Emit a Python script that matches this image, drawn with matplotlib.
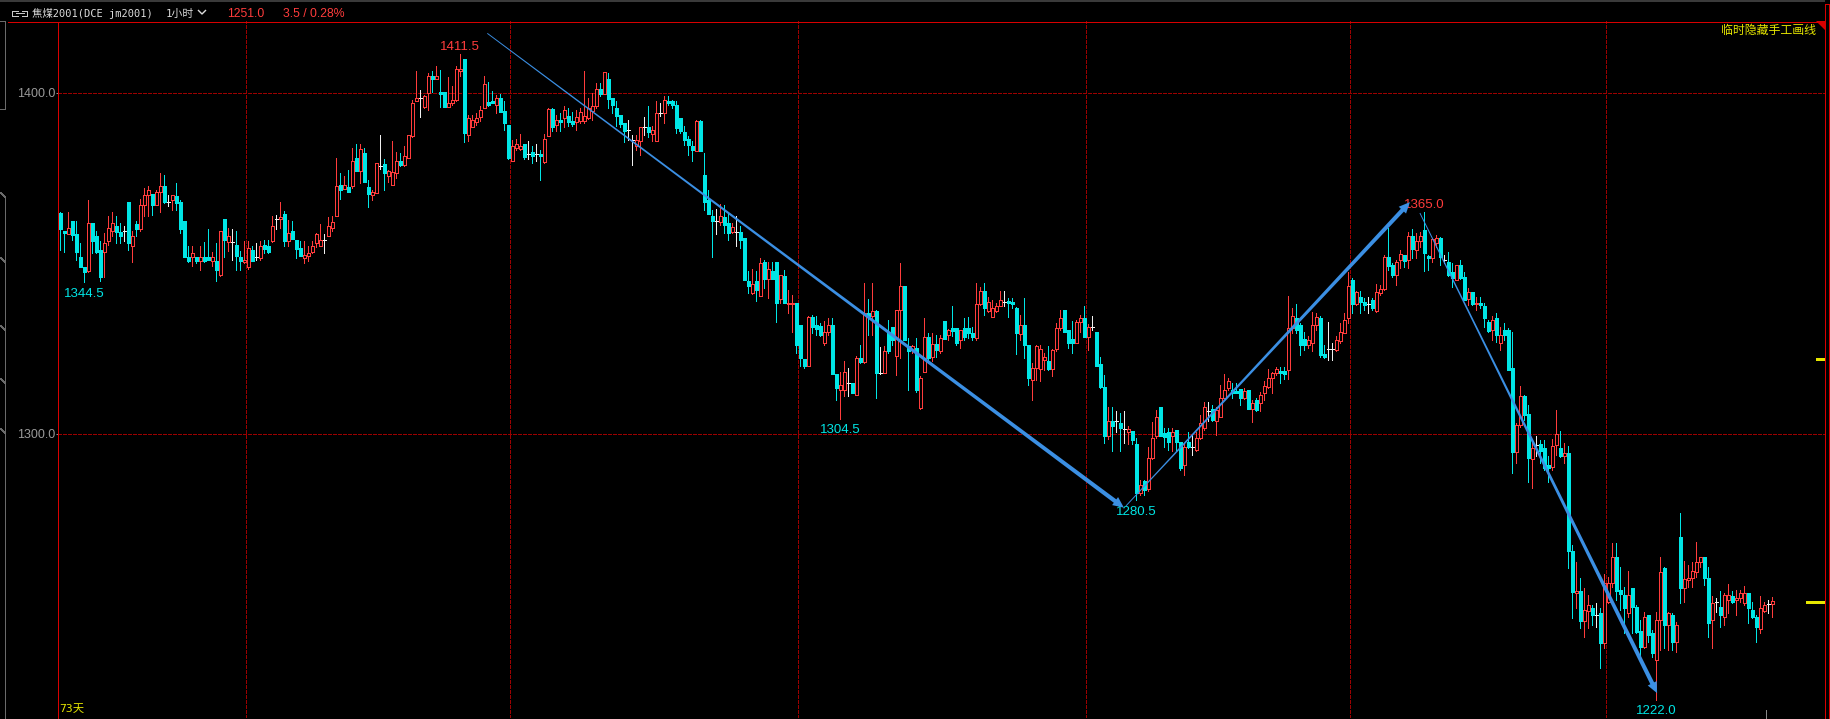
import numpy as np
import matplotlib
matplotlib.use("Agg")
import matplotlib.pyplot as plt
from matplotlib.lines import Line2D
from matplotlib.patches import Rectangle, Polygon
from matplotlib.transforms import IdentityTransform

# ---------------------------------------------------------------------------
# 1-hour bars, 焦煤2001 (DCE jm2001)
# ---------------------------------------------------------------------------
OPEN = [
    1364.8, 1359.6, 1358.7, 1362.5, 1358.7, 1352.0, 1348.9, 1347.8, 1362.0, 1358.0,
    1354.0, 1353.3, 1356.5, 1359.4, 1361.0, 1359.1, 1359.4, 1368.0, 1355.0, 1361.7,
    1360.0, 1367.3, 1370.0, 1370.4, 1367.3, 1370.9, 1372.6, 1368.0, 1368.7, 1369.7,
    1368.0, 1362.5, 1351.8, 1351.8, 1352.0, 1350.8, 1351.9, 1351.9, 1350.8, 1350.6,
    1346.7, 1363.1, 1356.3, 1356.2, 1355.5, 1352.0, 1350.3, 1348.9, 1354.0, 1351.9,
    1351.6, 1355.3, 1355.2, 1356.5, 1363.1, 1363.0, 1364.6, 1356.5, 1359.6, 1357.0,
    1354.6, 1351.6, 1352.3, 1353.3, 1356.0, 1355.0, 1357.0, 1358.0, 1360.4, 1363.8,
    1373.1, 1371.9, 1372.3, 1372.6, 1381.0, 1377.0, 1382.4, 1372.3, 1370.0, 1370.7,
    1378.5, 1379.3, 1375.6, 1372.9, 1376.5, 1380.2, 1379.0, 1381.0, 1387.3, 1397.8,
    1398.5, 1395.8, 1400.0, 1404.9, 1404.1, 1400.2, 1400.2, 1396.0, 1397.0, 1398.0,
    1406.4, 1410.0, 1387.8, 1390.0, 1391.4, 1393.0, 1395.6, 1397.3, 1397.8, 1396.6,
    1398.5, 1394.6, 1390.7, 1380.2, 1383.9, 1383.6, 1385.1, 1382.2, 1382.6, 1382.1,
    1382.2, 1379.7, 1387.3, 1395.3, 1390.5, 1392.2, 1392.7, 1393.2, 1391.7, 1391.4,
    1391.9, 1391.7, 1392.7, 1394.6, 1396.3, 1401.2, 1399.7, 1404.1, 1398.5, 1395.6,
    1393.6, 1391.2, 1389.2, 1386.3, 1384.4, 1385.8, 1390.0, 1390.0, 1388.1, 1385.8,
    1394.1, 1394.1, 1397.8, 1397.8, 1396.6, 1392.7, 1388.5, 1386.5, 1384.6, 1382.9,
    1391.7, 1376.0, 1368.7, 1364.0, 1362.4, 1362.1, 1363.6, 1361.9, 1359.2, 1359.1,
    1359.1, 1357.5, 1344.8, 1341.3, 1344.8, 1340.4, 1350.3, 1345.5, 1347.7, 1350.3,
    1339.6, 1346.2, 1338.2, 1338.2, 1338.4, 1332.1, 1322.0, 1319.8, 1334.2, 1332.0,
    1331.6, 1326.7, 1329.8, 1332.0, 1317.6, 1312.9, 1312.9, 1314.9, 1315.1, 1311.5,
    1322.2, 1321.0, 1335.6, 1334.6, 1336.1, 1317.8, 1317.8, 1329.6, 1331.3, 1322.9,
    1336.4, 1343.4, 1325.7, 1324.7, 1325.2, 1307.6, 1318.3, 1328.4, 1322.7, 1326.4,
    1324.2, 1333.0, 1329.1, 1331.0, 1331.0, 1327.6, 1331.0, 1331.0, 1329.6, 1328.1,
    1338.2, 1341.8, 1336.1, 1334.4, 1336.1, 1337.6, 1338.8, 1339.1, 1338.6, 1336.9,
    1329.4, 1332.0, 1326.1, 1315.9, 1319.3, 1319.0, 1321.7, 1321.4, 1319.0, 1324.9,
    1331.0, 1336.4, 1330.5, 1327.8, 1326.8, 1332.7, 1334.0, 1328.4, 1331.3, 1329.8,
    1320.6, 1313.9, 1299.3, 1303.7, 1303.7, 1303.2, 1301.5, 1300.7, 1300.9, 1297.1,
    1282.8, 1286.1, 1283.8, 1292.9, 1299.3, 1308.0, 1300.2, 1300.7, 1299.3, 1301.2,
    1297.8, 1290.9, 1297.8, 1296.3, 1295.4, 1298.8, 1301.7, 1306.6, 1307.3, 1303.9,
    1305.1, 1310.5, 1313.4, 1312.9, 1312.7, 1313.1, 1310.5, 1312.9, 1307.3, 1310.0,
    1309.2, 1311.9, 1313.9, 1316.3, 1318.0, 1318.6, 1318.6, 1318.8, 1331.0, 1334.1,
    1332.0, 1327.8, 1326.1, 1326.6, 1332.0, 1333.9, 1323.5, 1324.8, 1324.8, 1324.6,
    1327.4, 1329.7, 1333.9, 1345.2, 1338.1, 1340.3, 1338.8, 1338.0, 1339.3, 1336.0,
    1341.3, 1342.4, 1351.8, 1349.6, 1346.6, 1351.0, 1352.5, 1351.0, 1358.1, 1354.0,
    1356.6, 1359.8, 1352.2, 1351.5, 1355.9, 1357.4, 1351.0, 1350.3, 1347.6, 1345.2,
    1349.6, 1346.1, 1339.5, 1341.7, 1338.1, 1338.3, 1337.5, 1332.7, 1330.5, 1333.9,
    1326.6, 1330.5, 1330.5, 1319.3, 1294.8, 1302.6, 1311.0, 1305.9, 1292.6, 1296.8,
    1297.1, 1295.8, 1290.9, 1290.4, 1296.8, 1295.8, 1293.6, 1294.3, 1265.8, 1253.3,
    1254.0, 1245.3, 1248.2, 1248.9, 1246.9, 1247.4, 1238.8, 1250.8, 1256.2, 1264.0,
    1254.3, 1252.8, 1247.6, 1254.7, 1249.2, 1242.2, 1237.6, 1246.9, 1241.5, 1233.7,
    1245.5, 1260.6, 1244.0, 1246.9, 1239.1, 1269.9, 1254.7, 1257.2, 1257.9, 1259.6,
    1262.6, 1263.8, 1257.7, 1245.5, 1250.8, 1249.2, 1246.4, 1251.3, 1252.5, 1251.3,
    1251.8, 1250.3, 1253.3, 1248.4, 1246.2, 1242.7, 1248.2, 1250.2, 1250.2,
]
HIGH = [
    1365.2, 1359.6, 1365.0, 1362.5, 1362.4, 1356.0, 1348.9, 1368.6, 1362.0, 1359.4,
    1356.5, 1359.0, 1363.8, 1365.0, 1363.8, 1361.9, 1361.0, 1368.0, 1359.4, 1362.4,
    1369.0, 1372.1, 1372.6, 1370.4, 1371.7, 1376.5, 1376.0, 1370.2, 1370.2, 1373.6,
    1368.7, 1362.5, 1355.0, 1355.0, 1352.0, 1355.2, 1356.2, 1360.0, 1353.4, 1356.0,
    1359.6, 1363.1, 1360.4, 1360.0, 1359.4, 1353.6, 1356.5, 1356.5, 1355.0, 1356.0,
    1356.5, 1356.8, 1357.0, 1363.8, 1364.3, 1368.0, 1365.5, 1362.9, 1362.5, 1357.0,
    1356.5, 1356.5, 1355.0, 1356.5, 1359.0, 1361.6, 1358.7, 1363.6, 1363.8, 1381.0,
    1376.5, 1375.6, 1377.5, 1383.9, 1385.1, 1385.1, 1383.9, 1374.6, 1371.7, 1379.5,
    1387.8, 1380.7, 1377.5, 1386.0, 1382.6, 1382.4, 1384.4, 1387.8, 1398.0, 1406.4,
    1400.8, 1399.5, 1405.9, 1406.4, 1407.8, 1406.6, 1400.2, 1404.7, 1402.0, 1407.8,
    1411.5, 1410.0, 1393.6, 1393.6, 1394.1, 1396.3, 1405.1, 1403.1, 1400.5, 1399.5,
    1399.8, 1397.6, 1390.7, 1386.3, 1386.5, 1388.0, 1385.1, 1386.0, 1384.4, 1385.0,
    1383.4, 1388.1, 1395.6, 1395.6, 1393.6, 1394.1, 1396.1, 1395.6, 1394.3, 1395.1,
    1395.6, 1406.5, 1398.5, 1400.0, 1402.9, 1402.9, 1406.2, 1405.9, 1398.5, 1397.6,
    1393.6, 1391.2, 1392.2, 1387.8, 1387.8, 1390.0, 1393.0, 1396.3, 1390.4, 1397.6,
    1397.0, 1399.0, 1399.0, 1398.0, 1397.6, 1392.7, 1390.2, 1387.3, 1386.0, 1392.2,
    1392.2, 1382.4, 1371.7, 1365.8, 1366.0, 1367.5, 1367.2, 1365.0, 1361.9, 1363.8,
    1360.9, 1357.5, 1347.7, 1348.4, 1347.7, 1351.6, 1351.1, 1350.3, 1350.3, 1350.3,
    1346.7, 1348.2, 1342.1, 1340.9, 1338.4, 1332.1, 1322.0, 1334.7, 1335.0, 1334.7,
    1332.5, 1333.0, 1334.0, 1334.0, 1317.6, 1318.3, 1321.3, 1319.3, 1315.1, 1322.8,
    1326.1, 1344.2, 1339.5, 1344.2, 1336.4, 1325.4, 1325.7, 1333.5, 1331.3, 1336.4,
    1350.1, 1343.4, 1328.1, 1326.1, 1328.1, 1316.9, 1334.0, 1329.6, 1329.6, 1329.1,
    1329.1, 1333.0, 1330.7, 1337.4, 1331.0, 1330.5, 1334.0, 1334.4, 1331.5, 1344.2,
    1343.2, 1344.2, 1340.3, 1339.3, 1338.4, 1341.8, 1341.8, 1339.8, 1339.8, 1337.2,
    1334.9, 1339.8, 1326.1, 1320.8, 1326.1, 1326.1, 1323.7, 1325.7, 1324.9, 1332.5,
    1336.4, 1336.4, 1330.5, 1333.0, 1333.5, 1334.9, 1337.6, 1332.3, 1334.6, 1330.0,
    1322.5, 1317.3, 1308.0, 1308.0, 1306.6, 1306.1, 1306.6, 1302.2, 1300.9, 1298.8,
    1286.6, 1286.6, 1296.3, 1303.6, 1307.1, 1308.0, 1301.7, 1301.7, 1301.7, 1301.2,
    1297.8, 1297.3, 1300.7, 1299.7, 1300.7, 1305.6, 1309.5, 1309.5, 1308.5, 1308.0,
    1314.4, 1317.6, 1316.4, 1315.1, 1315.1, 1313.1, 1313.4, 1312.9, 1310.0, 1310.5,
    1312.4, 1315.4, 1319.0, 1318.3, 1319.7, 1319.7, 1319.7, 1340.5, 1336.9, 1338.0,
    1332.5, 1330.0, 1328.7, 1335.9, 1335.4, 1334.6, 1326.1, 1332.7, 1326.6, 1328.6,
    1332.5, 1335.4, 1347.6, 1345.7, 1341.8, 1341.8, 1340.0, 1340.3, 1340.0, 1344.0,
    1343.7, 1352.5, 1360.3, 1350.0, 1351.0, 1353.9, 1352.5, 1359.3, 1360.0, 1358.8,
    1359.3, 1365.0, 1352.5, 1357.4, 1358.4, 1357.9, 1352.5, 1353.5, 1350.0, 1349.6,
    1351.0, 1347.6, 1342.7, 1341.7, 1340.3, 1340.3, 1338.3, 1333.4, 1334.6, 1335.4,
    1331.5, 1332.5, 1331.0, 1330.0, 1303.1, 1314.0, 1311.4, 1308.5, 1298.2, 1299.4,
    1298.2, 1298.2, 1293.6, 1298.4, 1307.0, 1300.9, 1297.3, 1296.5, 1267.5, 1262.6,
    1257.7, 1254.7, 1252.8, 1249.9, 1250.5, 1248.9, 1258.9, 1258.2, 1267.9, 1267.9,
    1261.1, 1255.2, 1259.9, 1254.7, 1249.9, 1245.5, 1247.9, 1246.9, 1242.5, 1247.9,
    1264.0, 1261.1, 1247.9, 1247.4, 1245.0, 1276.7, 1262.8, 1261.6, 1262.6, 1268.4,
    1263.8, 1263.8, 1261.1, 1252.5, 1251.8, 1254.0, 1253.3, 1256.0, 1254.0, 1254.3,
    1254.3, 1255.4, 1253.3, 1250.8, 1246.9, 1252.5, 1250.8, 1251.3, 1252.3,
]
LOW = [
    1353.9, 1353.3, 1358.7, 1357.0, 1351.0, 1348.9, 1344.5, 1347.5, 1353.0, 1353.0,
    1344.8, 1346.0, 1355.5, 1358.0, 1356.0, 1356.0, 1356.5, 1353.9, 1350.3, 1358.0,
    1359.4, 1363.8, 1363.8, 1364.3, 1367.3, 1365.0, 1367.8, 1367.0, 1365.8, 1365.8,
    1359.0, 1351.8, 1350.3, 1349.2, 1350.0, 1348.2, 1350.3, 1350.9, 1349.2, 1344.8,
    1346.4, 1352.0, 1353.6, 1351.0, 1348.2, 1348.2, 1350.0, 1348.4, 1350.6, 1351.1,
    1351.0, 1353.1, 1353.1, 1356.3, 1360.2, 1360.4, 1355.0, 1355.0, 1357.3, 1351.6,
    1352.3, 1350.0, 1350.6, 1353.1, 1354.8, 1355.0, 1353.1, 1358.0, 1359.4, 1363.8,
    1369.0, 1371.9, 1370.9, 1372.1, 1377.0, 1373.6, 1373.8, 1366.6, 1368.5, 1370.7,
    1377.8, 1371.5, 1374.0, 1372.9, 1375.1, 1378.5, 1378.5, 1381.0, 1387.0, 1397.8,
    1392.9, 1395.6, 1394.9, 1400.3, 1404.1, 1396.0, 1396.0, 1396.0, 1396.5, 1397.8,
    1405.0, 1385.5, 1385.8, 1390.0, 1390.7, 1391.7, 1395.6, 1396.1, 1397.0, 1394.0,
    1394.4, 1389.2, 1380.6, 1380.2, 1383.4, 1383.4, 1380.7, 1380.7, 1379.5, 1380.0,
    1374.4, 1379.5, 1387.3, 1389.0, 1389.0, 1389.0, 1390.0, 1390.2, 1390.4, 1389.2,
    1391.2, 1391.2, 1392.4, 1392.2, 1395.6, 1399.0, 1399.7, 1395.6, 1394.1, 1390.2,
    1390.0, 1385.5, 1386.3, 1379.0, 1383.4, 1381.9, 1387.8, 1387.1, 1385.8, 1385.8,
    1393.4, 1391.2, 1396.6, 1395.6, 1388.3, 1388.3, 1384.8, 1381.9, 1380.0, 1382.9,
    1382.9, 1365.8, 1364.5, 1351.9, 1358.7, 1361.4, 1359.0, 1356.8, 1359.0, 1355.0,
    1354.5, 1345.3, 1341.3, 1341.2, 1339.0, 1340.4, 1342.8, 1339.9, 1345.5, 1332.7,
    1338.4, 1338.4, 1335.5, 1329.8, 1323.8, 1319.8, 1319.4, 1319.8, 1329.6, 1329.1,
    1328.6, 1326.2, 1329.1, 1317.6, 1310.0, 1304.5, 1311.0, 1311.2, 1312.0, 1311.3,
    1320.8, 1320.8, 1329.0, 1329.0, 1310.5, 1317.6, 1317.8, 1323.7, 1326.1, 1317.3,
    1322.2, 1327.6, 1313.0, 1323.7, 1312.4, 1307.3, 1318.3, 1320.8, 1321.3, 1322.7,
    1323.7, 1327.8, 1327.6, 1328.6, 1326.1, 1325.2, 1327.6, 1328.1, 1327.6, 1327.6,
    1337.9, 1334.9, 1335.9, 1334.4, 1335.9, 1337.4, 1337.4, 1334.4, 1336.9, 1323.5,
    1327.6, 1322.2, 1314.4, 1310.0, 1315.9, 1315.4, 1318.8, 1318.8, 1316.9, 1324.2,
    1330.5, 1329.8, 1325.2, 1323.7, 1326.6, 1329.8, 1328.4, 1324.7, 1330.5, 1319.8,
    1313.4, 1297.3, 1298.5, 1294.9, 1300.7, 1294.9, 1297.3, 1297.1, 1297.1, 1280.5,
    1282.2, 1282.2, 1283.4, 1292.6, 1298.8, 1299.3, 1296.3, 1295.4, 1294.9, 1295.4,
    1289.5, 1288.0, 1295.8, 1293.9, 1294.9, 1298.5, 1301.2, 1303.7, 1303.7, 1299.7,
    1305.1, 1310.5, 1312.9, 1310.5, 1312.0, 1308.5, 1310.2, 1307.3, 1303.4, 1306.6,
    1306.6, 1310.0, 1313.4, 1311.9, 1317.3, 1314.9, 1316.0, 1316.0, 1329.5, 1329.5,
    1323.2, 1324.6, 1325.1, 1324.2, 1330.5, 1322.7, 1322.2, 1321.7, 1321.7, 1324.2,
    1326.6, 1329.5, 1332.5, 1335.4, 1337.8, 1335.4, 1336.4, 1335.4, 1336.4, 1335.9,
    1340.8, 1342.2, 1348.1, 1346.1, 1343.7, 1348.6, 1348.9, 1348.6, 1351.5, 1351.5,
    1354.9, 1347.9, 1348.1, 1350.5, 1354.9, 1349.6, 1350.0, 1346.3, 1343.2, 1345.2,
    1345.4, 1339.3, 1337.8, 1337.8, 1336.4, 1336.9, 1331.5, 1330.0, 1327.6, 1327.1,
    1324.6, 1327.6, 1318.8, 1288.5, 1291.6, 1302.1, 1304.1, 1286.0, 1284.1, 1293.6,
    1291.4, 1289.4, 1286.0, 1289.3, 1293.8, 1293.4, 1291.4, 1260.6, 1245.9, 1248.9,
    1243.0, 1240.6, 1243.0, 1244.0, 1243.5, 1231.3, 1237.2, 1250.3, 1255.2, 1251.3,
    1248.4, 1241.5, 1246.4, 1241.5, 1241.5, 1234.7, 1237.2, 1239.1, 1234.7, 1222.0,
    1236.7, 1237.2, 1236.7, 1236.7, 1236.2, 1250.3, 1250.8, 1255.0, 1255.2, 1258.2,
    1261.1, 1255.7, 1240.6, 1237.2, 1247.9, 1243.3, 1244.0, 1247.4, 1250.3, 1246.9,
    1250.8, 1249.9, 1244.5, 1245.9, 1238.9, 1241.5, 1247.7, 1247.4, 1246.2,
]
CLOSE = [
    1360.2, 1358.8, 1360.4, 1358.5, 1353.3, 1348.9, 1347.4, 1361.8, 1356.5, 1353.3,
    1346.0, 1356.0, 1360.4, 1361.9, 1359.2, 1358.0, 1359.4, 1356.0, 1358.2, 1360.0,
    1367.3, 1370.2, 1371.7, 1367.3, 1371.0, 1372.6, 1368.0, 1368.0, 1370.2, 1367.7,
    1360.0, 1351.8, 1350.8, 1353.0, 1350.6, 1351.8, 1350.8, 1350.9, 1351.9, 1348.0,
    1359.6, 1357.0, 1358.2, 1356.2, 1352.3, 1350.6, 1351.1, 1354.6, 1350.8, 1351.9,
    1355.2, 1354.3, 1353.3, 1361.1, 1363.1, 1363.6, 1356.5, 1359.0, 1357.3, 1354.3,
    1352.3, 1352.6, 1353.1, 1355.2, 1358.7, 1357.0, 1357.0, 1360.9, 1362.1, 1372.6,
    1371.5, 1373.1, 1370.9, 1380.2, 1377.0, 1383.7, 1373.8, 1370.5, 1370.9, 1379.5,
    1378.5, 1376.5, 1377.0, 1376.7, 1380.2, 1379.0, 1381.4, 1387.8, 1397.0, 1398.5,
    1398.5, 1399.0, 1404.9, 1404.1, 1404.9, 1399.8, 1396.0, 1397.0, 1398.0, 1407.0,
    1407.0, 1388.3, 1392.7, 1392.2, 1392.7, 1395.1, 1402.7, 1396.4, 1397.0, 1398.5,
    1394.4, 1391.2, 1380.9, 1384.6, 1385.1, 1384.6, 1381.2, 1382.2, 1381.4, 1382.1,
    1381.4, 1386.6, 1395.3, 1389.9, 1392.2, 1391.4, 1395.1, 1391.4, 1390.9, 1392.9,
    1394.3, 1393.2, 1395.6, 1396.3, 1401.2, 1399.7, 1406.2, 1398.2, 1396.4, 1393.4,
    1390.9, 1389.0, 1389.2, 1386.3, 1386.3, 1390.0, 1390.0, 1388.5, 1389.2, 1394.1,
    1394.1, 1398.0, 1397.1, 1396.6, 1389.7, 1388.8, 1386.3, 1384.8, 1383.4, 1391.9,
    1382.9, 1367.9, 1364.5, 1362.4, 1362.4, 1364.0, 1361.4, 1359.0, 1360.6, 1359.1,
    1357.0, 1345.3, 1343.3, 1344.0, 1342.3, 1350.1, 1345.5, 1348.4, 1345.5, 1338.4,
    1346.7, 1338.4, 1338.4, 1338.4, 1326.2, 1322.3, 1319.8, 1334.2, 1331.4, 1330.8,
    1329.1, 1329.8, 1332.0, 1317.6, 1313.5, 1314.4, 1318.3, 1314.9, 1312.0, 1322.3,
    1321.0, 1335.6, 1334.6, 1336.1, 1317.8, 1317.8, 1324.2, 1324.2, 1327.6, 1336.4,
    1343.4, 1327.6, 1324.2, 1325.7, 1313.0, 1316.4, 1328.4, 1322.2, 1326.4, 1324.7,
    1328.1, 1327.8, 1330.5, 1330.3, 1326.6, 1330.5, 1328.4, 1329.6, 1328.4, 1338.2,
    1341.8, 1336.9, 1338.6, 1336.9, 1337.6, 1339.3, 1338.8, 1338.4, 1338.2, 1329.6,
    1332.0, 1326.1, 1316.4, 1319.3, 1325.7, 1324.9, 1322.7, 1319.0, 1324.5, 1331.0,
    1334.0, 1329.8, 1326.8, 1326.8, 1332.7, 1334.0, 1328.4, 1331.3, 1331.3, 1319.8,
    1313.9, 1299.3, 1303.7, 1302.2, 1303.7, 1301.7, 1301.5, 1301.4, 1298.3, 1282.8,
    1285.1, 1283.6, 1292.9, 1298.8, 1305.1, 1299.3, 1299.1, 1297.8, 1300.7, 1297.8,
    1290.0, 1296.3, 1296.3, 1296.3, 1298.8, 1303.2, 1308.0, 1306.6, 1304.0, 1307.1,
    1310.5, 1312.9, 1315.4, 1312.0, 1312.0, 1310.5, 1312.5, 1307.3, 1309.2, 1307.0,
    1311.4, 1314.1, 1316.3, 1317.8, 1319.0, 1317.8, 1317.6, 1331.0, 1334.6, 1330.5,
    1326.1, 1326.1, 1327.6, 1332.0, 1334.4, 1323.2, 1322.7, 1324.8, 1324.8, 1327.6,
    1330.0, 1333.4, 1343.4, 1338.1, 1341.5, 1338.8, 1337.8, 1338.0, 1336.9, 1341.5,
    1342.4, 1351.8, 1349.3, 1346.6, 1350.3, 1352.8, 1350.8, 1358.1, 1354.2, 1356.6,
    1358.1, 1353.0, 1351.5, 1357.1, 1357.4, 1351.8, 1351.0, 1346.6, 1345.7, 1349.6,
    1345.7, 1339.3, 1341.5, 1338.1, 1338.5, 1337.8, 1333.9, 1330.3, 1333.4, 1329.0,
    1329.0, 1329.0, 1318.8, 1294.8, 1302.6, 1311.0, 1305.6, 1292.9, 1295.8, 1296.8,
    1295.1, 1289.9, 1289.9, 1296.5, 1299.9, 1293.6, 1294.3, 1265.8, 1253.8, 1254.0,
    1245.3, 1248.4, 1249.8, 1246.9, 1246.9, 1238.8, 1256.2, 1256.2, 1264.0, 1254.0,
    1253.1, 1248.9, 1252.8, 1249.2, 1242.0, 1237.6, 1246.4, 1241.1, 1235.7, 1245.5,
    1259.6, 1244.0, 1247.4, 1239.1, 1244.0, 1254.7, 1257.4, 1257.9, 1259.9, 1262.6,
    1263.8, 1257.7, 1244.7, 1250.3, 1250.8, 1246.9, 1252.8, 1252.8, 1250.8, 1251.8,
    1253.3, 1253.3, 1248.9, 1246.2, 1243.3, 1248.9, 1249.9, 1250.2, 1251.0,
]

Y_TICKS = [1300.0, 1400.0]
DAY_BREAKS = [47, 113, 185, 257, 323, 387]          # first bar of a new period
EXTREMES = [(100, "high"), (6, "low"), (195, "low"),
            (269, "low"), (341, "high"), (399, "low")]
# hand-drawn arrows: (bar index, price) start -> end
ARROWS = [((106.75, 1417.5), (265.9, 1278.4)),
          ((266.4, 1278.9), (337.4, 1368.0)),
          ((339.9, 1364.8), (399.2, 1224.0))]
LAST_PRICE = 1251.0
AVG_PRICE = 1322.0
CHANGE = "3.5 / 0.28%"
DAYS = 73

# ---------------------------------------------------------------------------
W, H, DPI = 1831, 719, 100
BG = "#000000"
RED = "#ff3c3c"
CYAN = "#00e6e6"
WHITE = "#f0f0f0"
BORDER = "#d80000"
GRIDC = "#9b0000"
ARROWC = "#3b8fe3"
YELLOW = "#e6e600"
GREY = "#9a9a9a"
LINEGREY = "#6a6a6a"

fig = plt.figure(figsize=(W / DPI, H / DPI), dpi=DPI, facecolor=BG)


def fx(x):
    return x / W


def fy(y):
    return 1 - y / H


def fig_line(xs, ys, color, lw=0.72, aa=False):
    fig.add_artist(Line2D([fx(x + 0.5) for x in xs], [fy(y + 0.5) for y in ys],
                          transform=fig.transFigure, color=color, lw=lw,
                          antialiased=aa, solid_capstyle="butt"))


# plot area in pixels
L, R, T, B = 58, 1825, 21, 718
ax = fig.add_axes([fx(L), fy(B), (R - L) / W, (B - T) / H])
ax.set_facecolor(BG)
x0 = -(60.3 - L) / 4.0
ax.set_xlim(x0, x0 + (R - L) / 4.0)
ax.set_ylim(1400 - (B - 93) / 3.41, 1400 + (93 - T) / 3.41)
for s in ax.spines.values():
    s.set_visible(False)
ax.set_xticks([])
ax.set_yticks(Y_TICKS)
ax.set_yticklabels([f"{v:.1f}" for v in Y_TICKS])
ax.tick_params(axis="y", colors=GREY, length=1.5, width=0.7, pad=0.3, labelsize=9)
for lab in ax.get_yticklabels():
    lab.set_fontfamily("Liberation Sans")

# dashed grid
for v in Y_TICKS:
    ax.axhline(v, color=GRIDC, lw=0.72, ls=(0, (4, 2)), antialiased=False, zorder=1)
for b in DAY_BREAKS:
    ax.axvline(b - 0.5, color=GRIDC, lw=0.72, ls=(0, (4, 2)), antialiased=False, zorder=1)

# candles
o, h, l, c = (np.array(a) for a in (OPEN, HIGH, LOW, CLOSE))
idx = np.arange(len(o))
up, dn, flat = c > o, c < o, c == o
wick_cols = np.where(up, RED, np.where(dn, CYAN, WHITE))
ax.vlines(idx, l, h, colors=wick_cols, lw=0.72, antialiased=False, zorder=2)
bw = 0.62
for i in idx:
    if up[i]:
        ax.add_patch(Rectangle((i - bw / 2, o[i]), bw, c[i] - o[i], fc=BG, ec=RED,
                               lw=0.72, antialiased=False, zorder=3))
    elif dn[i]:
        ax.add_patch(Rectangle((i - bw / 2, c[i]), bw, o[i] - c[i], fc=CYAN, ec=CYAN,
                               lw=0.72, antialiased=False, zorder=3))
ax.hlines(o[flat], idx[flat] - bw / 2, idx[flat] + bw / 2, colors=WHITE, lw=0.72,
          antialiased=False, zorder=3)

# extreme labels
for i, kind in EXTREMES:
    if kind == "high":
        v, col, dy = HIGH[i], RED, 4
    else:
        v, col, dy = LOW[i], CYAN, -14.5
    ax.annotate(f"{v:.1f}", (i, v), xytext=(0, dy), textcoords="offset pixels",
                ha="center", va="baseline", color=col, fontsize=9.5,
                family="Liberation Sans", zorder=6, annotation_clip=False)


# tapered hand-drawn arrows
def taper_arrow(p0, p1, w0, w1, hl, hw):
    a = ax.transData.transform(p0)
    b = ax.transData.transform(p1)
    d = (b - a) / np.hypot(*(b - a))
    n = np.array([-d[1], d[0]])
    base = b - d * hl
    pts = [a + n * w0 / 2, base + n * w1 / 2, base + n * hw / 2, b,
           base - n * hw / 2, base - n * w1 / 2, a - n * w0 / 2]
    fig.add_artist(Polygon(pts, closed=True, transform=IdentityTransform(),
                           fc=ARROWC, ec="none", zorder=5))


for p0, p1 in ARROWS:
    taper_arrow(p0, p1, 0.9, 4.2, 11, 10)

# right-hand price markers
for price, length in ((AVG_PRICE, 9), (LAST_PRICE, 19)):
    yp = H - ax.transData.transform((0, price))[1]
    fig_line([R - length, R - 1], [yp, yp], YELLOW, lw=1.0)

# ---------------------------------------------------------------------------
# window frame / decorations
fig.add_artist(Rectangle((0, fy(2)), fx(R), 2 / H, transform=fig.transFigure,
                         fc="#3a3a3a", ec="none"))
fig_line([8, R], [T, T], BORDER)
fig_line([L, L], [T, B], BORDER)
fig_line([L, R], [B, B], BORDER)
fig_line([R, R], [3, H], BORDER)
fig_line([1829, 1829], [3, H], BORDER)
fig_line([R, 1829], [3, 3], BORDER)
fig.add_artist(Polygon([(fx(1816.5), fy(T)), (fx(R + 0.5), fy(T)), (fx(R + 0.5), fy(30))],
                       closed=True, transform=fig.transFigure, fc=BORDER, ec="none"))

# left splitter
fig_line([0, 5, 5, 0], [20, 20, 108, 108], LINEGREY)
fig_line([0, 5, 5], [192, 197, H], LINEGREY)
for ys in (262, 330, 383, 433):
    fig_line([0, 5], [ys - 5, ys], LINEGREY)

fig_line([1766, 1766], [709, H], "#888888")

# header
fig_line([18, 12, 12, 18], [10, 10, 15, 15], "#c8c8c8")
fig_line([21, 27, 27, 21], [10, 10, 15, 15], "#c8c8c8")
fig_line([15, 24], [12.5, 12.5], "#c8c8c8")
mono_cjk = ["DejaVu Sans Mono", "Noto Sans CJK SC"]
fig.text(fx(32), fy(16.7), "焦煤2001(DCE jm2001)", family=mono_cjk, size=7.5,
         color="#dcdcdc", va="baseline")
fig.text(fx(166), fy(16.7), "1小时", family=mono_cjk, size=7.8,
         color="#dcdcdc", va="baseline")
fig_line([197.5, 201.5, 205.5], [9.5, 13.5, 9.5], "#dcdcdc", lw=1.0, aa=True)
fig.text(fx(227), fy(16.7), f"{LAST_PRICE:.1f}", family="Liberation Sans", size=8.8,
         color=RED, va="baseline")
fig.text(fx(283), fy(16.7), CHANGE, family="Liberation Sans", size=8.8,
         color=RED, va="baseline")

fig.text(fx(1816), fy(30.5), "临时隐藏手工画线", family="Noto Sans CJK SC", size=8.6,
         color=YELLOW, ha="right", va="center")
fig.text(fx(59), fy(709), f"{DAYS}天", family=mono_cjk, size=8.2,
         color=YELLOW, ha="left", va="center")

fig.savefig("out.png", dpi=DPI, facecolor=BG)
